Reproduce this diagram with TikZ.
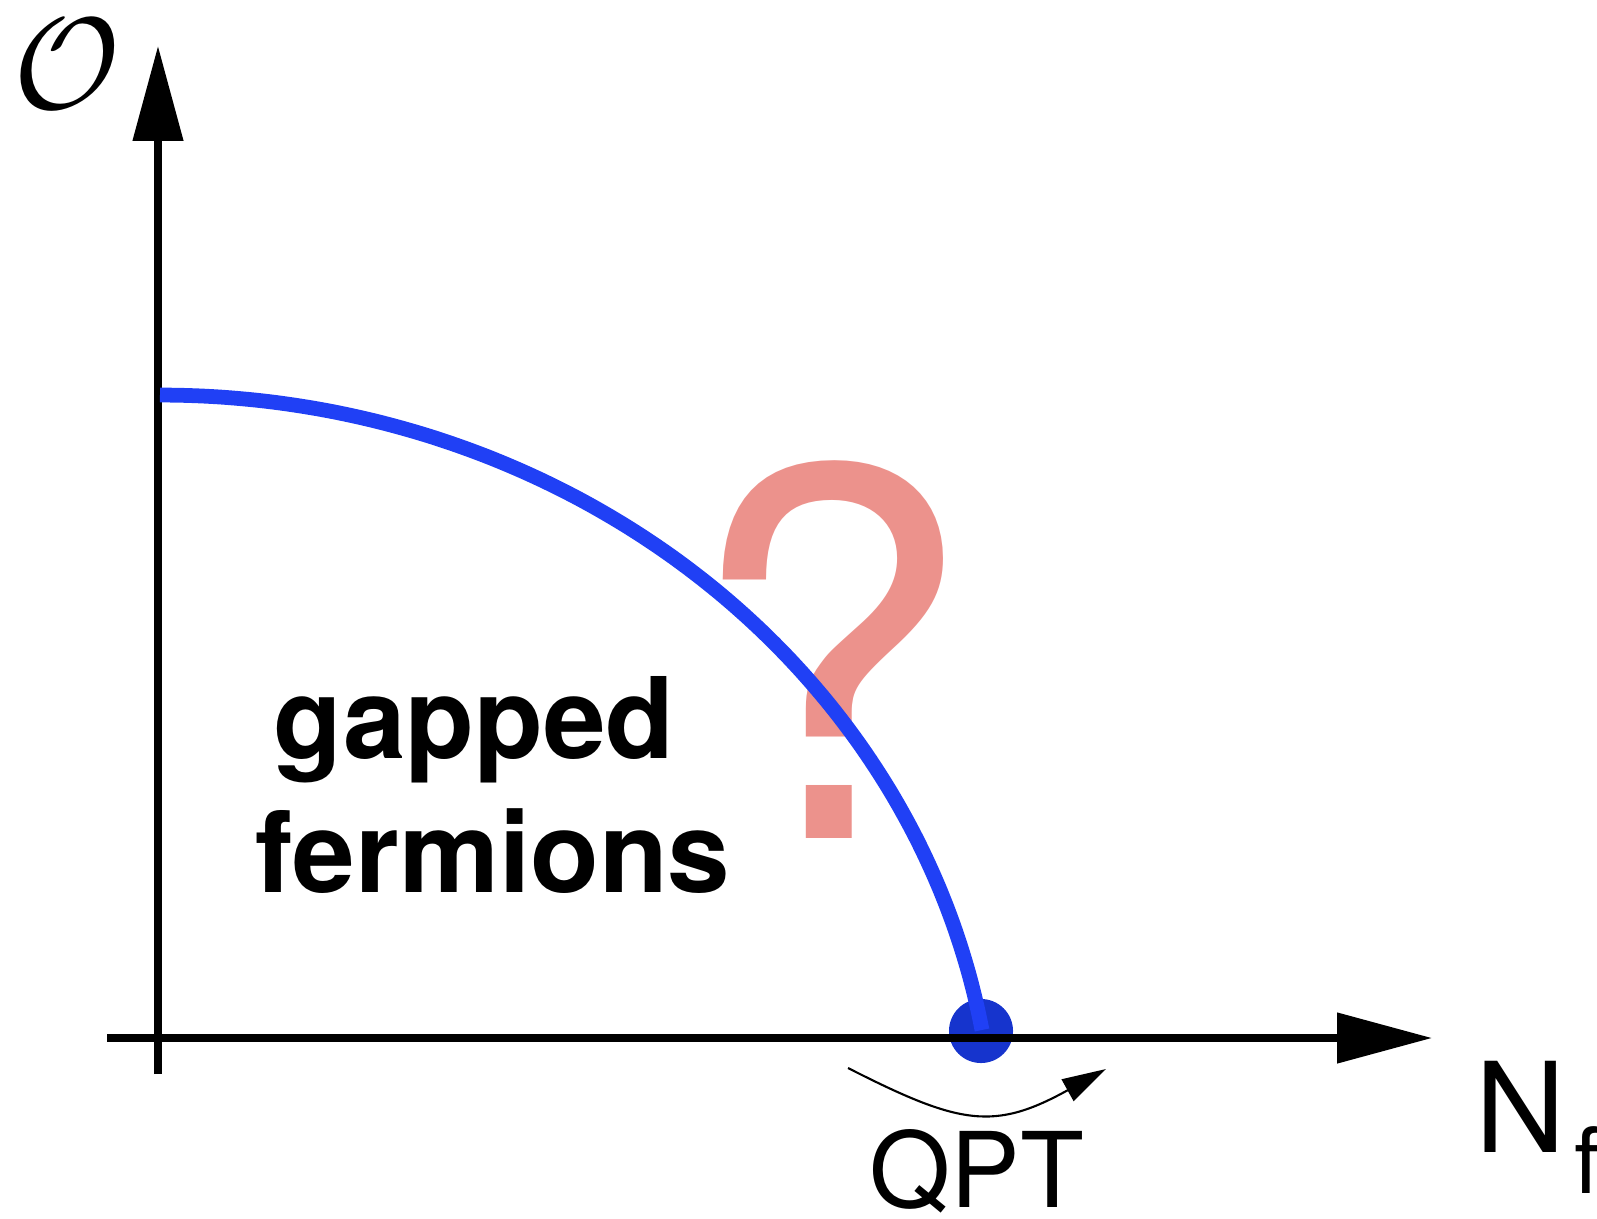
\RequirePackage{fix-cm}
\documentclass[tikz,border=0pt]{standalone}
\usepackage{fontspec}
\setmainfont{TeX Gyre Heros}
\usepackage{xcolor}
\usetikzlibrary{arrows.meta}
\definecolor{curveblue}{RGB}{32,64,245}
\definecolor{dotblue}{RGB}{22,52,205}
\definecolor{qpink}{RGB}{236,146,140}

\begin{document}
\begin{tikzpicture}[x=0.01cm, y=-0.01cm,
    axisline/.style={line width=2pt, -{Triangle[length=27pt, width=14pt]}},
    gapcurve/.style={curveblue, line width=4.2pt},
    flowarrow/.style={line width=0.6pt, -{Triangle[length=12.5pt, width=7pt]}},
    lbl/.style={inner sep=0pt, anchor=base west}]
  \useasboundingbox (0,0) rectangle (1597,1218);

  % axes
  \coordinate (ybot) at (158,1074);
  \coordinate (ytop) at (158,46);
  \coordinate (xleft) at (107,1038);
  \coordinate (xright) at (1432,1038);
  \coordinate (qpt) at (981,1031);

  % critical point
  \fill[dotblue] (qpt) circle[radius=0.32cm];
  \draw[axisline] (ybot) -- (ytop);
  \draw[axisline] (xleft) -- (xright);

  % big question mark behind the curve
  \node[qpink, inner sep=0pt, anchor=base, font=\fontsize{145}{150}\selectfont] (question) at (829,838) {?};

  % order parameter vs N_f (piece of an ellipse, 0 to 80 degrees)
  \draw[gapcurve] plot[domain=0:80, samples=60, smooth]
    ({160+834.7*sin(\x)}, {1163.4-768.4*cos(\x)});

  % labels
  \node[inner sep=0pt, font=\fontsize{37}{40}\selectfont] (obs) at (67,64) {$\mathcal{O}$};
  \node[lbl, font=\bfseries\fontsize{32}{36}\selectfont] (gapped) at (273,758) {gapped};
  \node[lbl, font=\bfseries\fontsize{32}{36}\selectfont] (fermions) at (255,892) {fermions};
  \node[lbl, font=\fontsize{29.7}{32}\selectfont] (qptlabel) at (869,1207) {QPT};
  \node[lbl, font=\fontsize{35.6}{38}\selectfont] (nflabel) at (1475,1152)
    {N\hspace{2.3pt}\fontsize{26}{28}\selectfont\raisebox{-11.7pt}{f}};

  % flow through the transition
  \coordinate (arcstart) at (848,1068);
  \coordinate (arcend) at (1106,1069);
  \draw[flowarrow] (arcstart) .. controls (960,1125) and (994,1131) .. (arcend);
\end{tikzpicture}
\end{document}
